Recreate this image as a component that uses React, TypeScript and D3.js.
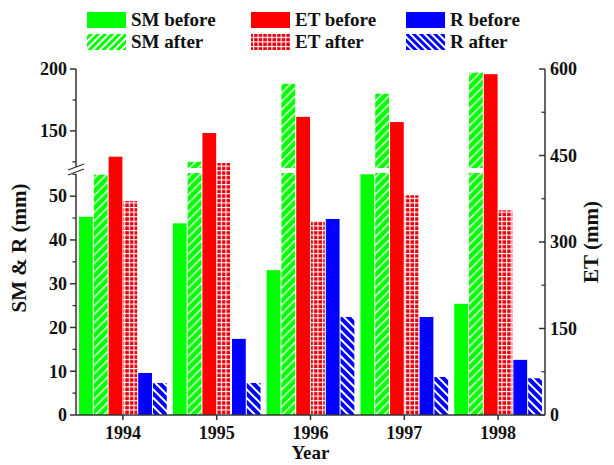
import React from 'react';
import * as d3 from 'd3';

const years = ['1994', '1995', '1996', '1997', '1998'];
const smBefore = [45.3, 43.8, 33.1, 55.0, 25.4];
const smAfter = [54.9, 125, 188, 180, 197];
const etBefore = [448, 489, 517, 508, 591];
const etAfter = [371, 437, 336, 381, 355];
const rBefore = [9.6, 17.4, 44.8, 22.4, 12.6];
const rAfter = [7.3, 7.3, 22.4, 8.7, 8.4];
const seriesNames = ['SM before', 'SM after', 'ET before', 'ET after', 'R before', 'R after'];
const lowerMajor = [0, 10, 20, 30, 40, 50];
const lowerMinor = [5, 15, 25, 35, 45, 55];
const upperMajor = [150, 200];
const upperMinor = [125, 175];
const etMajor = [0, 150, 300, 450, 600];
const etMinor = [75, 225, 375, 525];

const W = 614;
const H = 465;
const FONT = '"Liberation Serif", "Times New Roman", serif';

export default function App() {
  const axisL = 76;
  const axisR = 545;
  const x0 = d3.scaleBand<string>().domain(years).range([axisL, axisR]).paddingInner(0.065).paddingOuter(0.0325);
  const x1 = d3.scaleBand<string>().domain(seriesNames).range([0, x0.bandwidth()]).paddingInner(0.07);
  const yLow = d3.scaleLinear().domain([0, 55.3]).range([415, 173]);
  const yHigh = d3.scaleLinear().domain([120, 200]).range([168, 69]);
  const yET = d3.scaleLinear().domain([0, 600]).range([415, 69]);
  const lowMax = yLow.domain()[1];
  const highMin = yHigh.domain()[0];
  const base = yLow(0);

  const series = [
    { name: 'SM before', values: smBefore, side: 'left', fill: '#00ff00' },
    { name: 'SM after', values: smAfter, side: 'left', fill: 'url(#smHatch)' },
    { name: 'ET before', values: etBefore, side: 'right', fill: '#ff0000' },
    { name: 'ET after', values: etAfter, side: 'right', fill: 'url(#etGrid)' },
    { name: 'R before', values: rBefore, side: 'left', fill: '#0000ff' },
    { name: 'R after', values: rAfter, side: 'left', fill: 'url(#rHatch)' },
  ];

  const bars: JSX.Element[] = [];
  series.forEach((s) => {
    s.values.forEach((v, i) => {
      const x = (x0(years[i]) as number) + (x1(s.name) as number);
      const w = x1.bandwidth();
      if (s.side === 'right') {
        bars.push(<rect key={s.name + i} x={x} y={yET(v)} width={w} height={base - yET(v)} fill={s.fill} />);
      } else if (v <= lowMax) {
        bars.push(<rect key={s.name + i} x={x} y={yLow(v)} width={w} height={base - yLow(v)} fill={s.fill} />);
      } else {
        bars.push(<rect key={s.name + i + 'lo'} x={x} y={yLow(lowMax)} width={w} height={base - yLow(lowMax)} fill={s.fill} />);
        bars.push(<rect key={s.name + i + 'hi'} x={x} y={yHigh(v)} width={w} height={yHigh(highMin) - yHigh(v)} fill={s.fill} />);
      }
    });
  });

  const axisColor = '#333';
  const textStyle = { fontFamily: FONT, fontWeight: 'bold' as const, fill: '#111' };
  const breakTop = yHigh(highMin);
  const breakBot = yLow(lowMax);

  const legendCols = [
    { x: 87, items: [{ name: 'SM before', fill: '#00ff00' }, { name: 'SM after', fill: 'url(#smHatchL)' }] },
    { x: 251, items: [{ name: 'ET before', fill: '#ff0000' }, { name: 'ET after', fill: 'url(#etGrid)' }] },
    { x: 406, items: [{ name: 'R before', fill: '#0000ff' }, { name: 'R after', fill: 'url(#rHatchL)' }] },
  ];
  const legendRowsY = [12, 34];

  return (
    <svg width={W} height={H} style={{ position: 'absolute', left: 0, top: 0, background: '#fff' }}>
      <defs>
        <pattern id="smHatch" patternUnits="userSpaceOnUse" width={6} height={6} patternTransform="rotate(45)">
          <rect width={6} height={6} fill="#00ff00" />
          <rect width={1.5} height={6} fill="#ffffff" opacity={0.9} />
        </pattern>
        <pattern id="smHatchL" patternUnits="userSpaceOnUse" width={5} height={5} patternTransform="rotate(45)">
          <rect width={5} height={5} fill="#00ff00" />
          <rect width={2} height={5} fill="#ffffff" />
        </pattern>
        <pattern id="rHatch" patternUnits="userSpaceOnUse" width={6} height={6} patternTransform="rotate(-45)">
          <rect width={6} height={6} fill="#0000ff" />
          <rect width={2} height={6} fill="#ffffff" />
        </pattern>
        <pattern id="rHatchL" patternUnits="userSpaceOnUse" width={5} height={5} patternTransform="rotate(-45)">
          <rect width={5} height={5} fill="#0000ff" />
          <rect width={2} height={5} fill="#ffffff" />
        </pattern>
        <pattern id="etGrid" patternUnits="userSpaceOnUse" width={4.6} height={4.6}>
          <rect width={4.6} height={4.6} fill="#ffffff" />
          <rect x={1.1} y={1.1} width={3.5} height={3.5} fill="#e8000b" />
        </pattern>
      </defs>

      {/* legend */}
      {legendCols.map((col) =>
        col.items.map((it, r) => (
          <g key={it.name}>
            <rect x={col.x} y={legendRowsY[r]} width={39} height={16} fill={it.fill} />
            <text x={col.x + 44} y={legendRowsY[r] + 14} fontSize={19} style={textStyle}>{it.name}</text>
          </g>
        ))
      )}

      {bars}

      {/* bottom axis */}
      <line x1={axisL} x2={axisR} y1={base} y2={base} stroke={axisColor} strokeWidth={1.5} />
      {years.map((yr) => {
        const cx = (x0(yr) as number) + x0.bandwidth() / 2;
        return (
          <g key={yr}>
            <line x1={cx} x2={cx} y1={base} y2={base + 5} stroke={axisColor} strokeWidth={1.5} />
            <text x={cx} y={439} textAnchor="middle" fontSize={18} style={textStyle}>{yr}</text>
          </g>
        );
      })}
      <text x={(axisL + axisR) / 2} y={459} textAnchor="middle" fontSize={19} style={textStyle}>Year</text>

      {/* left axis (broken) */}
      <line x1={axisL} x2={axisL} y1={base} y2={breakBot + 1} stroke={axisColor} strokeWidth={1.5} />
      <line x1={axisL} x2={axisL} y1={breakTop - 1} y2={yHigh(200)} stroke={axisColor} strokeWidth={1.5} />
      <line x1={axisL - 8} x2={axisL + 8} y1={breakTop + 2} y2={breakTop - 4} stroke={axisColor} strokeWidth={1.3} />
      <line x1={axisL - 8} x2={axisL + 8} y1={breakBot + 2} y2={breakBot - 4} stroke={axisColor} strokeWidth={1.3} />
      {lowerMajor.map((t) => (
        <g key={'lm' + t}>
          <line x1={axisL - 6} x2={axisL} y1={yLow(t)} y2={yLow(t)} stroke={axisColor} strokeWidth={1.5} />
          <text x={axisL - 9} y={yLow(t)} dy="0.35em" textAnchor="end" fontSize={18} style={textStyle}>{t}</text>
        </g>
      ))}
      {lowerMinor.filter((t) => t < lowMax).map((t) => (
        <line key={'ln' + t} x1={axisL - 3.5} x2={axisL} y1={yLow(t)} y2={yLow(t)} stroke={axisColor} strokeWidth={1.3} />
      ))}
      {upperMajor.map((t) => (
        <g key={'um' + t}>
          <line x1={axisL - 6} x2={axisL} y1={yHigh(t)} y2={yHigh(t)} stroke={axisColor} strokeWidth={1.5} />
          <text x={axisL - 9} y={yHigh(t)} dy="0.35em" textAnchor="end" fontSize={18} style={textStyle}>{t}</text>
        </g>
      ))}
      {upperMinor.map((t) => (
        <line key={'un' + t} x1={axisL - 3.5} x2={axisL} y1={yHigh(t)} y2={yHigh(t)} stroke={axisColor} strokeWidth={1.3} />
      ))}
      <text transform={`translate(26,${(base + yHigh(200)) / 2 + 6}) rotate(-90)`} textAnchor="middle" fontSize={21} style={textStyle}>SM &amp; R (mm)</text>

      {/* right axis */}
      <line x1={axisR} x2={axisR} y1={base} y2={yET(600)} stroke={axisColor} strokeWidth={1.5} />
      {etMajor.map((t) => (
        <g key={'em' + t}>
          <line x1={axisR - 6} x2={axisR} y1={yET(t)} y2={yET(t)} stroke={axisColor} strokeWidth={1.5} />
          <text x={axisR + 5} y={yET(t)} dy="0.35em" textAnchor="start" fontSize={18} style={textStyle}>{t}</text>
        </g>
      ))}
      {etMinor.map((t) => (
        <line key={'en' + t} x1={axisR - 3.5} x2={axisR} y1={yET(t)} y2={yET(t)} stroke={axisColor} strokeWidth={1.3} />
      ))}
      <text transform={`translate(598,${(base + yET(600)) / 2}) rotate(-90)`} textAnchor="middle" fontSize={21} style={textStyle}>ET (mm)</text>
    </svg>
  );
}
